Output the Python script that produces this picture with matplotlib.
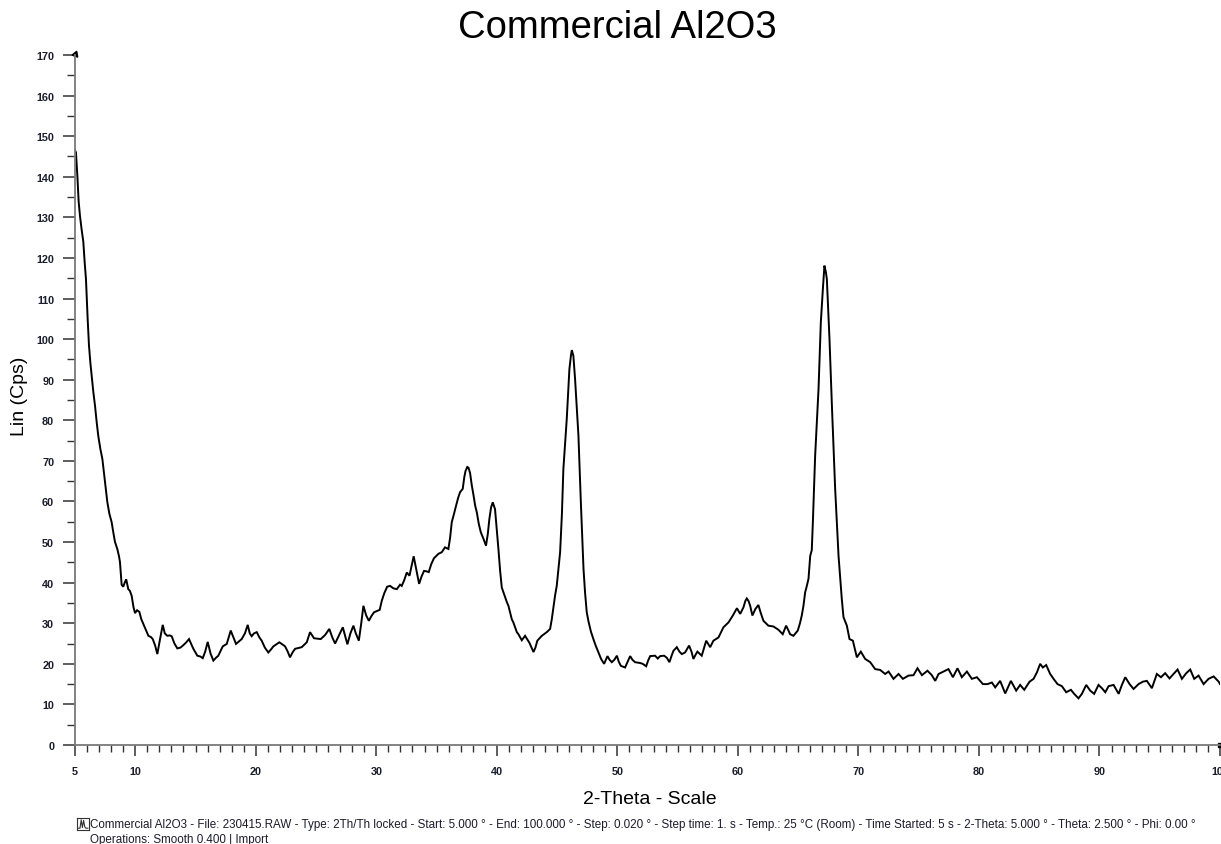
import matplotlib.pyplot as plt
from matplotlib.ticker import MultipleLocator, FixedLocator

plt.rcParams['font.family'] = ['Liberation Sans', 'DejaVu Sans']

TITLE = "Commercial Al2O3"
X_LABEL = "2-Theta - Scale"
Y_LABEL = "Lin (Cps)"
FOOTER_1 = ("Commercial Al2O3 - File: 230415.RAW - Type: 2Th/Th locked - Start: 5.000 \u00b0 - "
            "End: 100.000 \u00b0 - Step: 0.020 \u00b0 - Step time: 1. s - Temp.: 25 \u00b0C (Room) - "
            "Time Started: 5 s - 2-Theta: 5.000 \u00b0 - Theta: 2.500 \u00b0 - Phi: 0.00 \u00b0")
FOOTER_2 = "Operations: Smooth 0.400 | Import"

X_MIN, X_MAX = 5, 100
Y_MIN, Y_MAX = 0, 170
X_TICKS = [5, 10, 20, 30, 40, 50, 60, 70, 80, 90, 100]

# 2-theta (deg) / intensity (cps)
two_theta = [
    5.00, 5.08, 5.20, 5.30, 5.41, 5.55, 5.69, 5.80, 5.91, 6.05, 6.16, 6.28, 6.38, 6.52, 6.66, 6.80,
    6.93, 7.10, 7.27, 7.40, 7.49, 7.60, 7.68, 7.85, 8.04, 8.20, 8.32, 8.51, 8.65, 8.73, 8.87, 9.00,
    9.15, 9.25, 9.42, 9.55, 9.70, 9.85, 9.98, 10.15, 10.34, 10.50, 10.67, 10.85, 11.09, 11.30, 11.45, 11.65,
    11.83, 12.05, 12.28, 12.45, 12.66, 12.85, 13.02, 13.25, 13.49, 13.75, 13.99, 14.20, 14.46, 14.65, 14.82, 15.15,
    15.40, 15.60, 15.80, 16.01, 16.25, 16.48, 16.70, 16.89, 17.05, 17.26, 17.59, 17.75, 17.92, 18.15, 18.36, 18.60,
    18.83, 19.10, 19.33, 19.50, 19.66, 19.85, 20.08, 20.30, 20.49, 20.75, 21.04, 21.25, 21.46, 21.70, 21.95, 22.20,
    22.43, 22.65, 22.84, 23.05, 23.26, 23.55, 23.81, 24.05, 24.23, 24.50, 24.83, 25.10, 25.39, 25.75, 26.10, 26.35,
    26.58, 26.90, 27.22, 27.40, 27.60, 27.85, 28.10, 28.30, 28.55, 28.75, 28.93, 29.15, 29.38, 29.60, 29.81, 30.05,
    30.28, 30.45, 30.66, 30.90, 31.14, 31.42, 31.70, 31.97, 32.11, 32.30, 32.53, 32.75, 32.92, 33.10, 33.30, 33.55,
    33.75, 33.96, 34.15, 34.35, 34.55, 34.78, 35.15, 35.43, 35.70, 35.98, 36.12, 36.26, 36.45, 36.62, 36.80, 36.95,
    37.17, 37.30, 37.40, 37.55, 37.65, 37.78, 37.92, 38.05, 38.20, 38.34, 38.50, 38.67, 38.89, 39.10, 39.25, 39.38,
    39.52, 39.66, 39.85, 40.00, 40.13, 40.27, 40.41, 40.55, 40.83, 40.96, 41.24, 41.37, 41.66, 41.79, 42.07, 42.34,
    42.70, 42.88, 43.04, 43.20, 43.36, 43.55, 43.73, 44.14, 44.42, 44.56, 44.83, 44.97, 45.11, 45.25, 45.40, 45.52,
    45.80, 46.02, 46.15, 46.22, 46.35, 46.49, 46.77, 46.97, 47.19, 47.32, 47.46, 47.60, 47.80, 48.01, 48.20, 48.43,
    48.65, 48.90, 49.18, 49.35, 49.54, 49.75, 49.96, 50.12, 50.29, 50.64, 50.85, 51.06, 51.25, 51.47, 51.89, 52.10,
    52.39, 52.55, 52.72, 53.13, 53.35, 53.55, 53.88, 54.10, 54.32, 54.50, 54.65, 54.93, 55.15, 55.35, 55.62, 55.95,
    56.15, 56.31, 56.50, 56.64, 57.00, 57.20, 57.37, 57.55, 57.70, 57.97, 58.39, 58.60, 58.80, 59.22, 59.58, 59.92,
    60.19, 60.46, 60.62, 60.74, 60.88, 61.02, 61.20, 61.45, 61.70, 61.90, 62.12, 62.53, 62.95, 63.36, 63.72, 63.88,
    64.00, 64.15, 64.33, 64.61, 64.97, 65.15, 65.30, 65.44, 65.58, 65.72, 65.86, 66.00, 66.13, 66.22, 66.41, 66.69,
    66.88, 67.05, 67.18, 67.30, 67.38, 67.60, 67.80, 68.07, 68.35, 68.62, 68.76, 69.04, 69.26, 69.54, 69.87, 70.20,
    70.56, 70.98, 71.39, 71.80, 72.22, 72.50, 72.91, 73.33, 73.69, 74.16, 74.57, 74.90, 75.27, 75.73, 76.09, 76.37,
    76.65, 77.06, 77.47, 77.84, 78.22, 78.58, 79.00, 79.41, 79.83, 80.33, 80.71, 81.07, 81.35, 81.76, 82.18, 82.65,
    83.09, 83.42, 83.76, 84.20, 84.53, 84.81, 85.08, 85.30, 85.58, 85.91, 86.19, 86.52, 86.88, 87.24, 87.63, 87.90,
    88.26, 88.54, 88.90, 89.23, 89.56, 89.92, 90.20, 90.48, 90.76, 91.17, 91.59, 91.86, 92.14, 92.50, 92.83, 93.24,
    93.60, 93.93, 94.35, 94.76, 95.10, 95.45, 95.81, 96.14, 96.48, 96.84, 97.20, 97.53, 97.86, 98.22, 98.64, 99.05,
    99.47, 99.89, 100.00,
]
lin_cps = [
    146.5, 146.0, 140.0, 134.0, 130.4, 127.0, 124.0, 119.0, 114.8, 105.0, 98.4, 94.0, 91.0, 87.0, 83.6, 79.5,
    76.2, 73.0, 70.5, 67.0, 64.8, 62.0, 59.9, 57.0, 54.9, 52.0, 50.0, 48.3, 46.5, 45.1, 39.5, 39.0,
    40.2, 40.8, 38.4, 38.0, 36.8, 34.0, 32.5, 33.2, 32.8, 31.0, 29.8, 28.5, 26.9, 26.6, 26.1, 24.5,
    22.4, 26.0, 29.6, 27.5, 26.9, 27.0, 26.8, 25.0, 23.8, 24.0, 24.6, 25.2, 26.1, 24.8, 23.7, 22.0,
    21.8, 21.4, 23.0, 25.4, 22.5, 20.8, 21.5, 22.0, 23.0, 24.3, 24.9, 26.5, 28.2, 26.5, 24.9, 25.5,
    26.1, 27.5, 29.6, 27.5, 26.8, 27.5, 27.8, 26.5, 25.7, 24.0, 22.8, 23.5, 24.3, 24.8, 25.3, 24.8,
    24.3, 23.0, 21.6, 22.8, 23.7, 23.9, 24.1, 24.8, 25.3, 27.8, 26.3, 26.2, 26.1, 27.1, 28.6, 26.5,
    25.0, 27.0, 29.0, 27.0, 24.8, 27.5, 29.4, 27.5, 25.7, 30.0, 34.3, 32.0, 30.6, 31.8, 32.7, 33.0,
    33.3, 35.5, 37.4, 39.0, 39.2, 38.6, 38.4, 39.5, 39.2, 40.5, 42.5, 41.7, 44.0, 46.5, 43.5, 39.7,
    41.5, 42.9, 42.8, 42.6, 44.5, 46.0, 47.1, 47.5, 48.7, 48.3, 51.0, 54.9, 57.0, 59.0, 61.0, 62.3,
    63.1, 66.0, 67.5, 68.5, 68.3, 67.0, 64.0, 61.8, 59.0, 57.3, 54.5, 52.4, 50.8, 49.1, 52.0, 55.7,
    58.5, 59.8, 58.1, 53.0, 48.3, 43.0, 38.8, 37.6, 35.2, 34.3, 31.0, 30.2, 27.8, 27.3, 25.8, 26.9,
    25.2, 24.0, 22.9, 24.0, 25.7, 26.3, 26.9, 27.8, 28.6, 31.0, 36.8, 39.2, 43.4, 47.5, 57.0, 68.0,
    80.3, 92.6, 96.0, 97.3, 95.9, 90.2, 76.2, 59.8, 43.4, 37.5, 32.7, 30.5, 28.0, 26.1, 24.5, 22.8,
    21.2, 20.0, 21.9, 21.0, 20.4, 21.0, 22.0, 20.5, 19.5, 19.1, 20.5, 21.9, 21.0, 20.4, 20.2, 20.0,
    19.4, 20.8, 21.9, 22.0, 21.3, 21.9, 22.0, 21.5, 20.4, 22.0, 23.2, 24.1, 23.0, 22.4, 22.8, 24.5,
    23.0, 21.2, 22.3, 23.0, 22.0, 24.0, 25.7, 24.8, 24.1, 25.7, 26.5, 27.8, 29.0, 30.2, 31.9, 33.7,
    32.3, 33.9, 35.5, 36.1, 35.5, 34.3, 31.9, 33.5, 34.5, 32.5, 30.6, 29.4, 29.2, 28.4, 27.3, 28.5,
    29.4, 28.5, 27.3, 26.9, 28.2, 30.0, 31.9, 34.3, 37.6, 39.2, 41.0, 46.6, 48.0, 54.9, 71.3, 87.7,
    104.1, 112.3, 118.1, 116.5, 114.8, 100.0, 83.6, 63.1, 46.6, 36.0, 31.5, 29.4, 26.1, 25.7, 21.6, 23.0,
    21.2, 20.4, 18.7, 18.5, 17.5, 18.1, 16.3, 17.5, 16.3, 17.1, 17.2, 18.9, 17.2, 18.3, 17.2, 15.8,
    17.5, 18.1, 18.7, 16.7, 18.9, 16.7, 18.1, 16.3, 16.7, 15.0, 15.0, 15.4, 14.2, 15.8, 12.7, 15.8,
    13.4, 14.8, 13.6, 15.6, 16.3, 17.9, 20.0, 19.1, 19.7, 17.5, 16.3, 15.0, 14.5, 13.0, 13.6, 12.6,
    11.5, 12.6, 14.8, 13.4, 12.6, 14.8, 14.0, 13.0, 14.5, 14.8, 12.6, 14.8, 16.7, 15.0, 13.8, 15.0,
    15.6, 15.8, 14.0, 17.5, 16.7, 17.7, 16.4, 17.5, 18.6, 16.3, 17.7, 18.6, 16.3, 17.1, 15.0, 16.3,
    16.9, 15.6, 15.0,
]

fig = plt.figure(figsize=(12.21, 8.45), dpi=100)
ax = fig.add_axes([75 / 1221, 1 - 746 / 845, 1145 / 1221, 690 / 845])

ax.plot(two_theta, lin_cps, color='black', lw=1.4, solid_joinstyle='miter')

ax.set_xlim(X_MIN, X_MAX)
ax.set_ylim(Y_MIN, Y_MAX)

for side in ['top', 'right']:
    ax.spines[side].set_visible(False)
for side in ['left', 'bottom']:
    ax.spines[side].set_color('#7a7a7a')
    ax.spines[side].set_linewidth(1.3)

ax.xaxis.set_major_locator(FixedLocator(X_TICKS))
ax.xaxis.set_minor_locator(MultipleLocator(1))
ax.yaxis.set_major_locator(MultipleLocator(10))
ax.yaxis.set_minor_locator(MultipleLocator(5))

ax.tick_params(axis='x', which='major', direction='out', length=8, width=1.1, color='#333333',
               pad=7, labelsize=7.8, labelcolor='#1c1c2c')
ax.tick_params(axis='x', which='minor', direction='out', length=5, width=1.0, color='#333333')
ax.tick_params(axis='y', which='major', direction='out', length=9, width=1.1, color='#333333',
               pad=6, labelsize=7.8, labelcolor='#1c1c2c')
ax.tick_params(axis='y', which='minor', direction='out', length=6, width=1.0, color='#333333')
for lbl in ax.get_xticklabels() + ax.get_yticklabels():
    lbl.set_fontweight('bold')

# little end marks on the axes
ax.plot([0], [1.002], marker=(3, 0, -20), ms=5, color='black', transform=ax.transAxes, clip_on=False)
ax.plot([1.0], [0], marker='s', ms=2.5, color='black', transform=ax.transAxes, clip_on=False)

fig.text(617 / 1221, 1 - 28 / 845, TITLE, ha='center', va='center', fontsize=27.5)
fig.text(650 / 1221, 1 - 800 / 845, X_LABEL, ha='center', va='center', fontsize=14)
fig.text(19 / 1221, 1 - 396 / 845, Y_LABEL, ha='center', va='center', rotation=90, fontsize=14)

# scan icon + scan description
icon = fig.add_axes([77 / 1221, 1 - 831 / 845, 12 / 1221, 12 / 845])
icon.plot([0.1, 0.25, 0.35, 0.45, 0.55, 0.65, 0.75, 0.9], [0.15, 0.15, 0.85, 0.2, 0.8, 0.25, 0.15, 0.15],
          color='#333333', lw=0.8)
icon.set_xlim(0, 1)
icon.set_ylim(0, 1)
icon.set_xticks([])
icon.set_yticks([])
for s in icon.spines.values():
    s.set_color('#333333')
    s.set_linewidth(0.8)

fig.text(90 / 1221, 1 - 825 / 845, FOOTER_1, ha='left', va='center', fontsize=8.4, color='#1c1c2c')
fig.text(90 / 1221, 1 - 840 / 845, FOOTER_2, ha='left', va='center', fontsize=8.4, color='#1c1c2c')

fig.savefig('out.png', dpi=100)
